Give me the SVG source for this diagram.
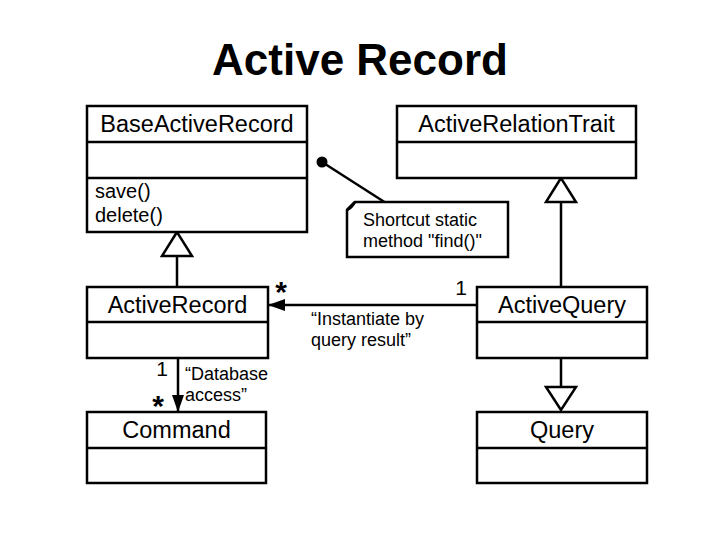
<svg xmlns="http://www.w3.org/2000/svg" width="720" height="540" viewBox="0 0 720 540">
<style>
.box{fill:#fff;stroke:#000;stroke-width:2.5}
.ln{fill:none;stroke:#000;stroke-width:2.5}
.t{font-family:"Liberation Sans",Arial,sans-serif;fill:#000}
.title{font-size:23.5px;text-anchor:middle}
.m{font-size:20px}
.s{font-size:18px}
.gen{fill:#fff;stroke:#000;stroke-width:2.5}
</style>
<defs>
<marker id="fill" markerWidth="18" markerHeight="12" refX="17" refY="6" orient="auto" markerUnits="userSpaceOnUse">
<path d="M0,0 L17,6 L0,12 Z" fill="#000"/>
</marker>
</defs>
<rect width="720" height="540" fill="#fff"/>
<text class="t" x="360" y="75" font-size="44" font-weight="bold" text-anchor="middle">Active Record</text>

<g id="connectors">
<line class="ln" x1="177" y1="256" x2="177" y2="287"/>
<polygon class="gen" points="177,232 162,256 192,256"/>
<line class="ln" x1="561" y1="202" x2="561" y2="287"/>
<polygon class="gen" points="561,178 546,202 576,202"/>
<line class="ln" x1="561" y1="358" x2="561" y2="387"/>
<polygon class="gen" points="561,410 546,387 576,387"/>
<line class="ln" x1="477" y1="305" x2="268" y2="305" marker-end="url(#fill)"/>
<line class="ln" x1="178" y1="358" x2="178" y2="412" marker-end="url(#fill)"/>
<line class="ln" x1="322" y1="162" x2="386" y2="203"/>
<circle cx="322" cy="162" r="5.5" fill="#000"/>
<text class="t" x="281" y="302" font-size="30" font-weight="bold" text-anchor="middle">*</text>
<text class="t" x="461" y="295" font-size="21" text-anchor="middle">1</text>
<text class="t s" x="311" y="325">“Instantiate by</text>
<text class="t s" x="311" y="346">query result”</text>
<text class="t" x="162" y="376" font-size="21" text-anchor="middle">1</text>
<text class="t" x="158" y="416" font-size="30" font-weight="bold" text-anchor="middle">*</text>
<text class="t s" x="185" y="380">“Database</text>
<text class="t s" x="185" y="401">access”</text>
</g>

<g id="BaseActiveRecord">
<rect class="box" x="87" y="106" width="220" height="126"/>
<line class="ln" x1="87" y1="142" x2="307" y2="142"/>
<line class="ln" x1="87" y1="178" x2="307" y2="178"/>
<text class="t title" x="197" y="132">BaseActiveRecord</text>
<text class="t m" x="95" y="198">save()</text>
<text class="t m" x="95" y="222">delete()</text>
</g>

<g id="ActiveRelationTrait">
<rect class="box" x="397" y="106" width="239" height="72"/>
<line class="ln" x1="397" y1="142" x2="636" y2="142"/>
<text class="t title" x="516.5" y="132">ActiveRelationTrait</text>
</g>

<g id="note">
<path class="box" d="M355,202 H508 V257 H347 V210 Z"/>
<path class="ln" d="M347,210 L355,202 Q352,208 347,210 Z" stroke-width="1.5"/>
<text class="t s" x="363" y="226">Shortcut static</text>
<text class="t s" x="363" y="247">method "find()"</text>
</g>

<g id="ActiveRecord">
<rect class="box" x="87" y="287" width="181" height="71"/>
<line class="ln" x1="87" y1="322" x2="268" y2="322"/>
<text class="t title" x="177.5" y="313">ActiveRecord</text>
</g>

<g id="ActiveQuery">
<rect class="box" x="477" y="287" width="170" height="71"/>
<line class="ln" x1="477" y1="322" x2="647" y2="322"/>
<text class="t title" x="562" y="313">ActiveQuery</text>
</g>

<g id="Command">
<rect class="box" x="87" y="412" width="179" height="71"/>
<line class="ln" x1="87" y1="448" x2="266" y2="448"/>
<text class="t title" x="176.5" y="438">Command</text>
</g>

<g id="Query">
<rect class="box" x="477" y="412" width="170" height="71"/>
<line class="ln" x1="477" y1="448" x2="647" y2="448"/>
<text class="t title" x="562" y="438">Query</text>
</g>
</svg>
